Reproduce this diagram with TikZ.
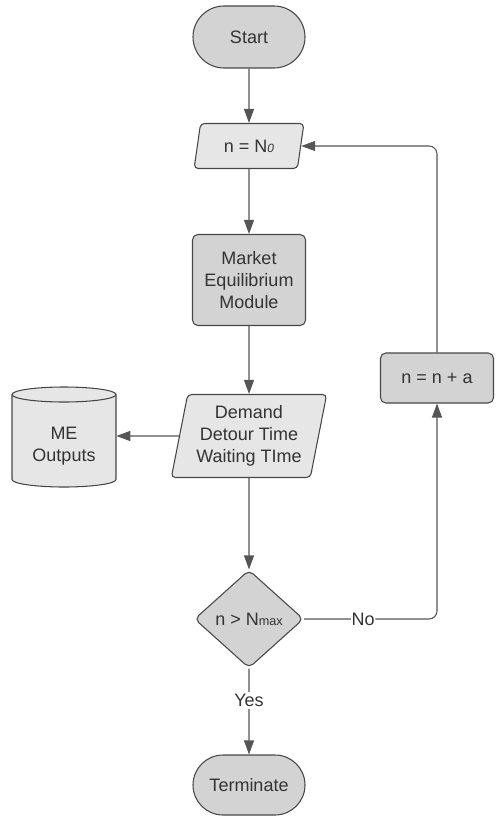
\documentclass[tikz,border=0pt]{standalone}
\usepackage{fontspec}
\setmainfont{Liberation Sans}
\usetikzlibrary{shapes.geometric,shapes.misc,arrows.meta,backgrounds}
\definecolor{edgegray}{HTML}{474747}
\definecolor{wiregray}{HTML}{555555}
\definecolor{darkfill}{HTML}{D3D3D3}
\definecolor{lightfill}{HTML}{E6E6E6}
\definecolor{inkgray}{HTML}{333333}
\begin{document}
\begin{tikzpicture}[x=0.75pt,y=-0.75pt,
  every node/.style={font=\fontsize{13.5}{16.5}\selectfont, text=inkgray, align=center},
  box/.style={draw=edgegray, line width=0.8pt, inner sep=0pt},
  terminal/.style={box, rounded rectangle, fill=darkfill, minimum width=84pt, minimum height=46.5pt},
  process/.style={box, rectangle, rounded corners=4pt, fill=darkfill},
  iobox/.style={box, trapezium, trapezium stretches=true, rounded corners=3pt, fill=lightfill},
  decision/.style={box, diamond, rounded corners=4pt, fill=darkfill, minimum width=81.75pt, minimum height=73.5pt},
  flow/.style={draw=wiregray, line width=0.8pt, -{Triangle[length=10.5pt,width=7.5pt]}},
  tag/.style={fill=white, inner sep=1.5pt}
]
\useasboundingbox (0,0) rectangle (496,817);

% main column
\node[terminal] (start) at (249,37) {Start};
\node[iobox, trapezium left angle=75, trapezium right angle=105,
      minimum width=82.5pt, minimum height=33.75pt] (init) at (249,146)
      {n = N{\fontsize{9}{9}\selectfont\itshape 0}};
\node[process, minimum width=84.75pt, minimum height=68.25pt] (market) at (249,280)
      {Market\\Equilibrium\\Module};
\node[iobox, trapezium left angle=77, trapezium right angle=103,
      minimum width=117.75pt, minimum height=62.25pt] (outputs) at (249,436)
      {Demand\\Detour Time\\Waiting TIme};
\node[decision] (check) at (249,619)
      {n > N{\fontsize{9.5}{9.5}\selectfont max}};
\node[terminal, minimum height=45pt] (stop) at (249,785) {Terminate};

% side nodes
\node[process, minimum width=84.75pt, minimum height=37.5pt] (step) at (437,378) {n = n + a};
\node[minimum width=78pt, minimum height=63.75pt, inner sep=0pt] (store) at (64,446) {ME\\Outputs};

% cylinder outline behind the store label (y grows downwards here)
\begin{scope}[on background layer]
  \fill[lightfill] (12,394.5) -- (12,479.5) arc[start angle=180,end angle=0,x radius=52,y radius=7.5]
                   -- (116,394.5) arc[start angle=0,end angle=-180,x radius=52,y radius=7.5] -- cycle;
  \draw[edgegray, line width=0.8pt] (12,394.5) -- (12,479.5)
        arc[start angle=180,end angle=0,x radius=52,y radius=7.5] -- (116,394.5);
  \draw[edgegray, line width=0.8pt] (64,394.5) ellipse[x radius=52, y radius=7.5];
\end{scope}

% connectors
\draw[flow] (start) -- (init);
\draw[flow] (init.south) -- (market.north);
\draw[flow] (market.south) -- (outputs.north);
\draw[flow] (outputs) -- (outputs -| store.east);
\draw[flow] (outputs.south) -- (check.north);
\draw[flow] (check) -- node[tag, pos=0.37] {Yes} (stop);
\draw[flow, rounded corners=6pt] (check.east) -- node[tag, pos=0.445, inner sep=0.5pt] {No}
      (check.east -| step.south) -- (step.south);
\draw[flow, rounded corners=6pt] (step.north) -- (step.north |- init.east) -- (init.east);
\end{tikzpicture}
\end{document}
